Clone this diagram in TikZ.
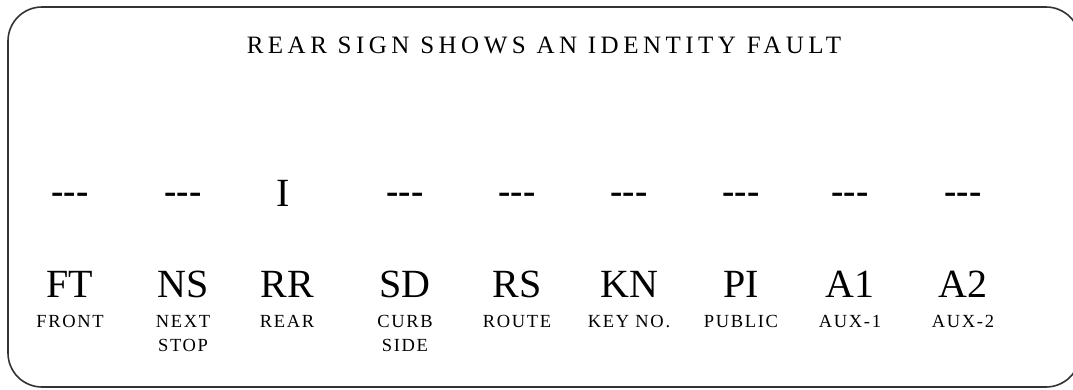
\documentclass[tikz,border=0pt]{standalone}
\usepackage{fontspec}
\setmainfont{Liberation Serif}
\newfontfamily\titlefont[LetterSpace=18]{Liberation Serif}
\newfontfamily\smallfont[LetterSpace=9]{Liberation Serif}
\begin{document}
\begin{tikzpicture}[x=1pt,y=-1pt,
  big/.style={font=\fontsize{40}{40}\selectfont, anchor=base, inner sep=0pt},
  small/.style={font=\smallfont\fontsize{18.5}{24}\selectfont, anchor=base, inner sep=0pt, align=center},
  dashtext/.style={font=\bfseries\fontsize{37}{37}\selectfont, inner sep=0pt},
  frame/.style={draw=black!80, line width=1.6pt, rounded corners=34pt}]
\useasboundingbox (0,0) rectangle (1073,389);
\draw[frame] (8,7) rectangle (1080,387);
\node[font=\titlefont\fontsize{25}{25}\selectfont, anchor=base, inner sep=0pt] (title) at (544,53) {REAR SIGN SHOWS AN IDENTITY FAULT};
\foreach \x/\n/\lab/\d/\yb in {70/FT/FRONT/d1/327, 183/NS/{NEXT\\STOP}/d2/351, 405/SD/{CURB\\SIDE}/d4/351, 517/RS/ROUTE/d5/327, 629/KN/KEY NO./d6/327, 741/PI/PUBLIC/d7/327, 850/A1/AUX-1/d8/327, 963/A2/AUX-2/d9/327}{
  \node[dashtext] (\d) at (\x,198) {-{}-{}-};
  \node[big] (b\n) at (\x,297) {\n};
  \node[small] (s\n) at (\x,\yb) {\lab};
}
\node[font=\fontsize{40}{40}\selectfont, anchor=base, inner sep=0pt] (d3) at (283,206) {I};
\node[big] (bRR) at (287,297) {RR};
\node[small] (sRR) at (287,327) {REAR};
\end{tikzpicture}
\end{document}
